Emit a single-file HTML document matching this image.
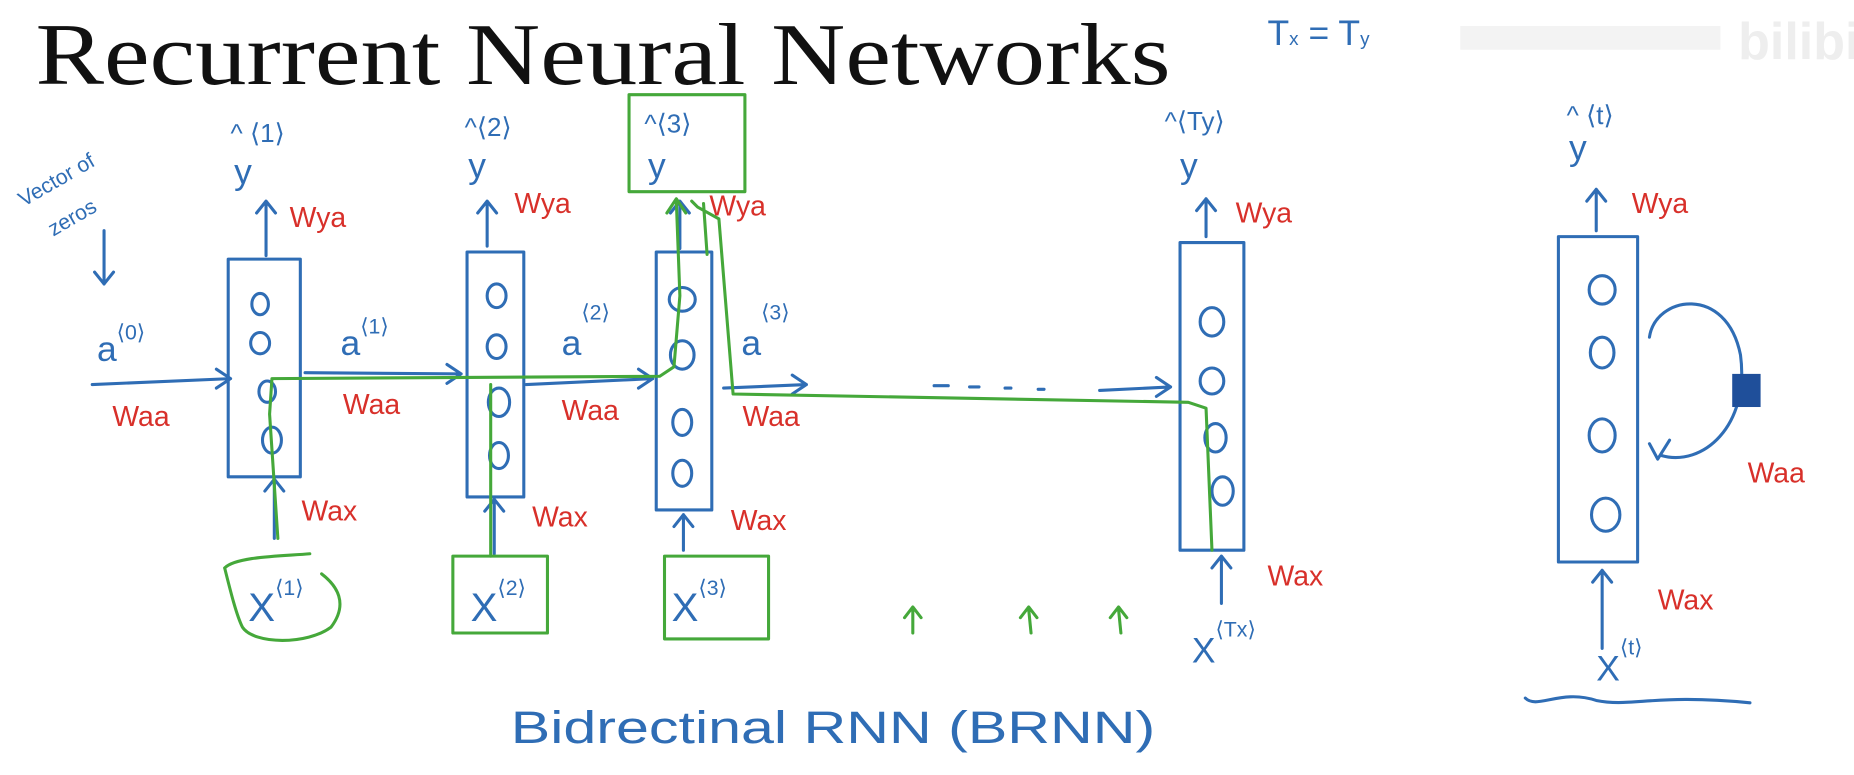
<!DOCTYPE html>
<html><head><meta charset="utf-8"><style>
html,body{margin:0;padding:0;background:#fff;width:1854px;height:775px;overflow:hidden}
svg{display:block}
.b{fill:none;stroke:#2f6db5;stroke-width:2.6;stroke-linecap:round;stroke-linejoin:round}
.g{fill:none;stroke:#45a83a;stroke-width:2.6;stroke-linecap:round;stroke-linejoin:round}
.bt{fill:#2f6db5;font-family:"Liberation Sans",sans-serif}
.rt{fill:#d8302a;font-family:"Liberation Sans",sans-serif}
</style></head><body>
<svg width="1854" height="775" viewBox="0 0 1568 655" preserveAspectRatio="none" xmlns="http://www.w3.org/2000/svg">
<text x="30" y="71" font-family="Liberation Serif,serif" font-size="74" textLength="960" lengthAdjust="spacingAndGlyphs" fill="#111">Recurrent Neural Networks</text>
<text x="1072" y="38" class="bt" font-size="30">T<tspan font-size="16">x</tspan> = T<tspan font-size="16">y</tspan></text>
<rect x="1235" y="22" width="220" height="20" fill="#f3f3f3"/>
<text x="1470" y="50" font-family="Liberation Sans,sans-serif" font-size="44" font-weight="bold" fill="#eeeeee">bilibi</text>
<!-- vector of zeros -->
<text x="20" y="175" class="bt" font-size="18" transform="rotate(-30 20 175)">Vector of</text>
<text x="45" y="200" class="bt" font-size="18" transform="rotate(-30 45 200)">zeros</text>
<path class="b" d="M88 195 L88 240 M80 230 L88 240 L96 230"/>
<!-- cells -->
<rect class="b" x="193" y="219" width="61" height="184"/>
<rect class="b" x="395" y="213" width="48" height="207"/>
<rect class="b" x="555" y="213" width="47" height="218"/>
<rect class="b" x="998" y="205" width="54" height="260"/>
<rect class="b" x="1318" y="200" width="67" height="275"/>
<g class="b">
<ellipse cx="220" cy="257" rx="7" ry="9"/><ellipse cx="220" cy="290" rx="8" ry="9"/><ellipse cx="226" cy="331" rx="7" ry="9"/><ellipse cx="230" cy="372" rx="8" ry="11"/>
<ellipse cx="420" cy="250" rx="8" ry="10"/><ellipse cx="420" cy="293" rx="8" ry="10"/><ellipse cx="422" cy="340" rx="9" ry="12"/><ellipse cx="422" cy="385" rx="8" ry="11"/>
<ellipse cx="577" cy="253" rx="11" ry="10"/><ellipse cx="577" cy="300" rx="10" ry="12"/><ellipse cx="577" cy="357" rx="8" ry="11"/><ellipse cx="577" cy="400" rx="8" ry="11"/>
<ellipse cx="1025" cy="272" rx="10" ry="12"/><ellipse cx="1025" cy="322" rx="10" ry="11"/><ellipse cx="1028" cy="370" rx="9" ry="12"/><ellipse cx="1034" cy="415" rx="9" ry="12"/>
<ellipse cx="1355" cy="245" rx="11" ry="12"/><ellipse cx="1355" cy="298" rx="10" ry="13"/><ellipse cx="1355" cy="368" rx="11" ry="14"/><ellipse cx="1358" cy="435" rx="12" ry="14"/>
</g>
<!-- recurrence loop -->
<path class="b" d="M1395 285 C1400 250,1460 240,1472 300 C1480 360,1440 395,1405 385 M1395 375 L1402 388 L1412 372"/>
<rect x="1465" y="316" width="24" height="28" fill="#1f4f9a"/>
<text x="1478" y="408" class="rt" font-size="24">Waa</text>
<!-- y outputs -->
<g class="bt" font-size="30">
<text x="195" y="120" font-size="22">^ ⟨1⟩</text><text x="198" y="155">y</text>
<text x="393" y="115" font-size="22">^⟨2⟩</text><text x="396" y="150">y</text>
<text x="545" y="112" font-size="22">^⟨3⟩</text><text x="548" y="150">y</text>
<text x="985" y="110" font-size="22">^⟨Ty⟩</text><text x="998" y="150">y</text>
<text x="1325" y="105" font-size="22">^ ⟨t⟩</text><text x="1327" y="135">y</text>
</g>
<rect class="g" x="532" y="80" width="98" height="82"/>
<g class="b">
<path d="M225 216 L225 170 M217 180 L225 170 L233 180"/>
<path d="M412 208 L412 170 M404 180 L412 170 L420 180"/>
<path d="M575 210 L575 170 M567 180 L575 170 L583 180"/>
<path d="M1020 200 L1020 168 M1012 178 L1020 168 L1028 178"/>
<path d="M1350 195 L1350 160 M1342 170 L1350 160 L1358 170"/>
</g>
<g class="rt" font-size="24">
<text x="245" y="192">Wya</text><text x="435" y="180">Wya</text><text x="600" y="182">Wya</text><text x="1045" y="188">Wya</text><text x="1380" y="180">Wya</text>
<text x="95" y="360">Waa</text><text x="290" y="350">Waa</text><text x="475" y="355">Waa</text><text x="628" y="360">Waa</text>
<text x="255" y="440">Wax</text><text x="450" y="445">Wax</text><text x="618" y="448">Wax</text><text x="1072" y="495">Wax</text><text x="1402" y="515">Wax</text>
</g>
<!-- horizontal arrows -->
<g class="b">
<path d="M78 325 L195 320 M183 312 L195 320 L183 328"/>
<path d="M258 315 L390 316 M378 308 L390 316 L378 324"/>
<path d="M445 325 L552 320 M540 312 L552 320 L540 328"/>
<path d="M612 328 L682 325 M670 317 L682 325 L670 333"/>
<path d="M790 326 L802 326 M820 327 L828 327 M850 328 L855 328 M878 329 L883 329 M930 330 L990 327 M978 319 L990 327 L978 335"/>
</g>
<g class="bt" font-size="30">
<text x="82" y="305">a<tspan font-size="18" dy="-18">⟨0⟩</tspan></text>
<text x="288" y="300">a<tspan font-size="18" dy="-18">⟨1⟩</tspan></text>
<text x="475" y="300">a<tspan font-size="18" dy="-30">⟨2⟩</tspan></text>
<text x="627" y="300">a<tspan font-size="18" dy="-30">⟨3⟩</tspan></text>
</g>
<!-- input arrows -->
<g class="b">
<path d="M232 455 L232 405 M224 415 L232 405 L240 415"/>
<path d="M418 468 L418 422 M410 432 L418 422 L426 432"/>
<path d="M578 465 L578 435 M570 445 L578 435 L586 445"/>
<path d="M1033 510 L1033 470 M1025 480 L1033 470 L1041 480"/>
<path d="M1355 548 L1355 482 M1347 492 L1355 482 L1363 492"/>
</g>
<g class="bt" font-size="34">
<text x="210" y="525">X<tspan font-size="18" dy="-22">⟨1⟩</tspan></text>
<text x="398" y="525">X<tspan font-size="18" dy="-22">⟨2⟩</tspan></text>
<text x="568" y="525">X<tspan font-size="18" dy="-22">⟨3⟩</tspan></text>
<text x="1008" y="560" font-size="30">X<tspan font-size="18" dy="-22">⟨Tx⟩</tspan></text>
<text x="1350" y="575" font-size="30">X<tspan font-size="18" dy="-22">⟨t⟩</tspan></text>
</g>
<path class="b" d="M1290 590 C1300 600,1320 582,1350 592 C1380 598,1400 586,1480 594"/>
<text x="432" y="628" class="bt" font-size="38" textLength="545" lengthAdjust="spacingAndGlyphs">Bidrectinal  RNN   (BRNN)</text>
<!-- green -->
<path class="g" d="M190 480 C200 470,240 470,262 468 M190 480 C195 500,200 520,205 530 C215 545,260 545,280 530 C295 510,285 495,272 485"/>
<rect class="g" x="383" y="470" width="80" height="65"/>
<rect class="g" x="562" y="470" width="88" height="70"/>
<path class="g" d="M235 455 L228 350 L230 320 L558 318 L570 310 L575 250 L572 170 M564 180 L572 168 L580 180"/>
<path class="g" d="M415 470 L415 325"/>
<path class="g" d="M585 170 L590 175 L608 185 L620 333 L1005 340 L1020 345 L1025 465 M595 172 L598 215"/>
<path class="g" d="M772 535 L772 515 M765 522 L772 513 L779 522 M872 535 L870 515 M863 522 L870 513 L877 522 M948 535 L946 515 M939 522 L946 513 L953 522"/>
</svg>
</body></html>
